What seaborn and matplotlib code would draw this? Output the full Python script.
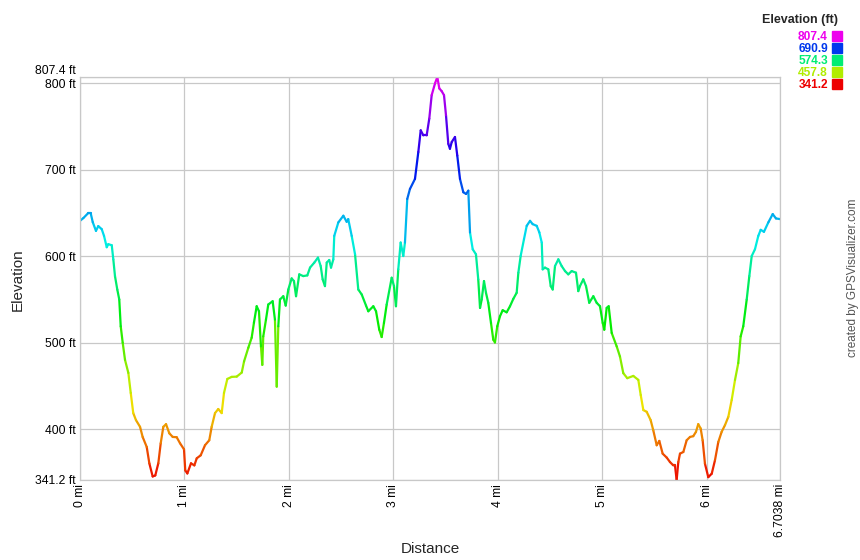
import matplotlib
matplotlib.use("Agg")
import matplotlib.pyplot as plt
import numpy as np
import pandas as pd
import seaborn as sns
from matplotlib.colors import ListedColormap, hsv_to_rgb
from matplotlib.patches import Rectangle

# ── Data: elevation profile ──────────────────────────────────────────────────
distance_mi = [
    0.000, 0.032, 0.079, 0.102, 0.122, 0.153, 0.175, 0.208, 0.230, 0.256,
    0.271, 0.304, 0.319, 0.335, 0.357, 0.376, 0.390, 0.409, 0.431, 0.463,
    0.486, 0.510, 0.536, 0.575, 0.600, 0.639, 0.664, 0.696, 0.721, 0.750,
    0.773, 0.798, 0.824, 0.855, 0.888, 0.926, 0.958, 0.996, 1.008, 1.028,
    1.063, 1.095, 1.118, 1.156, 1.197, 1.238, 1.261, 1.293, 1.324, 1.357,
    1.379, 1.411, 1.453, 1.501, 1.549, 1.571, 1.612, 1.644, 1.666, 1.692,
    1.714, 1.733, 1.746, 1.755, 1.781, 1.803, 1.845, 1.867, 1.884, 1.899,
    1.915, 1.947, 1.970, 1.995, 2.027, 2.049, 2.069, 2.100, 2.138, 2.177,
    2.203, 2.244, 2.279, 2.305, 2.324, 2.346, 2.363, 2.387, 2.404, 2.426,
    2.435, 2.474, 2.522, 2.554, 2.569, 2.602, 2.634, 2.665, 2.698, 2.739,
    2.761, 2.809, 2.835, 2.866, 2.889, 2.911, 2.937, 2.985, 3.007, 3.026,
    3.048, 3.071, 3.096, 3.112, 3.134, 3.160, 3.208, 3.240, 3.263, 3.288,
    3.320, 3.345, 3.368, 3.400, 3.422, 3.441, 3.464, 3.486, 3.505, 3.527,
    3.543, 3.560, 3.591, 3.613, 3.639, 3.671, 3.697, 3.719, 3.735, 3.761,
    3.792, 3.814, 3.831, 3.847, 3.869, 3.888, 3.910, 3.936, 3.958, 3.974,
    3.996, 4.022, 4.048, 4.086, 4.118, 4.150, 4.182, 4.198, 4.220, 4.252,
    4.278, 4.310, 4.335, 4.374, 4.399, 4.422, 4.431, 4.453, 4.485, 4.508,
    4.527, 4.549, 4.581, 4.613, 4.645, 4.676, 4.709, 4.750, 4.772, 4.788,
    4.820, 4.846, 4.877, 4.916, 4.948, 4.980, 5.006, 5.021, 5.044, 5.063,
    5.092, 5.140, 5.171, 5.203, 5.241, 5.299, 5.347, 5.370, 5.395, 5.427,
    5.465, 5.490, 5.523, 5.548, 5.580, 5.619, 5.650, 5.682, 5.698, 5.714,
    5.730, 5.746, 5.778, 5.810, 5.842, 5.873, 5.899, 5.921, 5.944, 5.963,
    5.985, 6.017, 6.050, 6.081, 6.113, 6.145, 6.177, 6.209, 6.241, 6.273,
    6.304, 6.327, 6.352, 6.385, 6.410, 6.433, 6.464, 6.496, 6.519, 6.550,
    6.592, 6.634, 6.665, 6.7038,
]
elevation_ft = [
    641.0, 644.2, 650.0, 650.0, 639.5, 629.4, 634.9, 631.4, 623.6, 610.5,
    614.0, 612.8, 596.5, 577.1, 561.6, 550.0, 519.0, 500.0, 480.2, 465.1,
    441.9, 418.6, 410.5, 402.7, 391.0, 379.4, 360.5, 345.3, 346.5, 360.5,
    383.7, 402.7, 405.8, 395.3, 391.0, 390.7, 383.7, 376.7, 352.3, 348.8,
    360.5, 358.1, 366.3, 369.8, 381.4, 387.2, 402.7, 418.6, 423.3, 418.6,
    441.9, 458.1, 460.5, 460.8, 465.5, 478.3, 494.2, 505.8, 523.3, 542.2,
    536.4, 495.7, 474.4, 507.3, 526.7, 544.2, 548.0, 526.7, 449.2, 519.0,
    550.0, 553.8, 543.0, 561.6, 574.4, 571.3, 553.8, 579.1, 577.1, 577.9,
    586.9, 592.7, 598.5, 588.7, 573.3, 565.5, 592.7, 595.7, 586.9, 596.5,
    623.6, 639.2, 646.9, 639.9, 643.0, 623.6, 602.3, 561.6, 555.8, 543.0,
    536.4, 542.2, 536.4, 515.1, 506.6, 522.9, 544.2, 575.2, 565.5, 542.2,
    584.9, 615.9, 600.3, 615.9, 666.3, 677.9, 689.5, 720.6, 745.7, 739.9,
    739.9, 759.3, 786.4, 800.0, 807.4, 794.2, 791.0, 786.4, 763.1, 730.2,
    724.4, 732.2, 738.0, 716.6, 689.5, 674.1, 672.1, 675.9, 627.6, 608.1,
    602.3, 573.3, 540.3, 550.0, 571.3, 557.8, 546.2, 522.9, 503.5, 500.3,
    519.0, 530.6, 537.6, 535.2, 542.2, 550.8, 557.8, 581.0, 600.3, 619.8,
    635.2, 641.0, 637.2, 635.2, 627.6, 615.9, 584.9, 586.9, 584.9, 565.5,
    561.6, 588.7, 596.5, 588.7, 582.9, 579.1, 582.9, 581.0, 559.7, 565.5,
    573.3, 565.5, 546.2, 553.8, 546.2, 542.2, 522.9, 515.1, 540.3, 542.2,
    511.3, 495.7, 484.1, 464.8, 459.0, 461.6, 457.0, 439.5, 422.1, 420.1,
    410.5, 398.8, 381.4, 386.4, 371.7, 367.1, 362.0, 358.1, 358.1, 341.2,
    362.0, 371.7, 373.6, 387.2, 391.0, 391.9, 396.9, 405.8, 400.8, 387.2,
    360.1, 344.5, 348.5, 364.0, 385.2, 396.9, 404.7, 414.3, 433.7, 457.0,
    476.4, 507.3, 519.0, 550.0, 577.1, 600.3, 608.1, 623.6, 630.6, 628.3,
    639.2, 648.8, 643.8, 643.0,
]
ELEV_MIN, ELEV_MAX = 341.2, 807.4
TOTAL_MI = 6.7038

x_ticks = [0, 1, 2, 3, 4, 5, 6, TOTAL_MI]
x_labels = ["0 mi", "1 mi", "2 mi", "3 mi", "4 mi", "5 mi", "6 mi", "6.7038 mi"]
y_ticks = [ELEV_MIN, 400, 500, 600, 700, 800, ELEV_MAX]
y_labels = ["341.2 ft", "400 ft", "500 ft", "600 ft", "700 ft", "800 ft", "807.4 ft"]
legend_values = [807.4, 690.9, 574.3, 457.8, 341.2]

# ── Style ────────────────────────────────────────────────────────────────────
sns.set_theme(style="white")
plt.rcParams["font.family"] = ["Liberation Sans", "DejaVu Sans"]

GRID = "#c8c8c8"
W, H = 860, 560

# hue scale red -> magenta, like the GPSVisualizer colouring
hues = np.linspace(0, 300 / 360, 256)
cmap = ListedColormap(hsv_to_rgb(np.column_stack([hues, np.ones(256), np.full(256, 0.93)])))

def elev_color(v):
    return cmap((v - ELEV_MIN) / (ELEV_MAX - ELEV_MIN))

# one two-point segment per step so each piece gets its own colour
rows = []
for i in range(len(distance_mi) - 1):
    mid = (elevation_ft[i] + elevation_ft[i + 1]) / 2
    for j in (i, i + 1):
        rows.append({"seg": i, "mi": distance_mi[j], "ft": elevation_ft[j], "c": mid})
seg_df = pd.DataFrame(rows)

fig = plt.figure(figsize=(W / 100, H / 100), dpi=100)
ax = fig.add_axes([80 / W, 80 / H, 700 / W, 403 / H])

sns.lineplot(data=seg_df, x="mi", y="ft", units="seg", hue="c", palette=cmap,
             hue_norm=(ELEV_MIN, ELEV_MAX), estimator=None, sort=False,
             legend=False, lw=1.6, solid_capstyle="round", ax=ax)

ax.set_xlim(0, TOTAL_MI)
ax.set_ylim(ELEV_MIN, ELEV_MAX)
ax.set_xticks(x_ticks)
ax.set_xticklabels(x_labels, rotation=90, va="top", ha="center")
ax.set_yticks(y_ticks)
ax.set_yticklabels(y_labels)
ax.get_yticklabels()[-1].set_va("bottom")
ax.tick_params(length=0, labelsize=8.7, colors="black", pad=3)
ax.grid(True, color=GRID, lw=0.9)
for s in ax.spines.values():
    s.set_color(GRID)
    s.set_linewidth(0.9)
ax.set_xlabel("")
ax.set_ylabel("")

fig.text(18 / W, 1 - 280 / H, "Elevation", rotation=90, ha="center", va="center", fontsize=11)
fig.text(430 / W, 1 - 549 / H, "Distance", ha="center", va="center", fontsize=11)
fig.text(853 / W, 1 - 278 / H, "created by GPSVisualizer.com", rotation=90,
         ha="center", va="center", fontsize=8.5, color="#555555")

# ── Colour legend, top right ─────────────────────────────────────────────────
fig.text(838 / W, 1 - 20 / H, "Elevation (ft)", ha="right", va="center",
         fontsize=9, fontweight="bold")
for k, v in enumerate(legend_values):
    yc = 36 + 12 * k
    col = elev_color(v)
    fig.text(828 / W, 1 - yc / H, f"{v:.1f}", ha="right", va="center_baseline",
             fontsize=8.6, fontweight="bold", color=col)
    fig.patches.append(Rectangle((832 / W, 1 - (yc + 5) / H), 10 / W, 10 / H,
                                 transform=fig.transFigure, color=col))

fig.savefig("out.png", dpi=100)
